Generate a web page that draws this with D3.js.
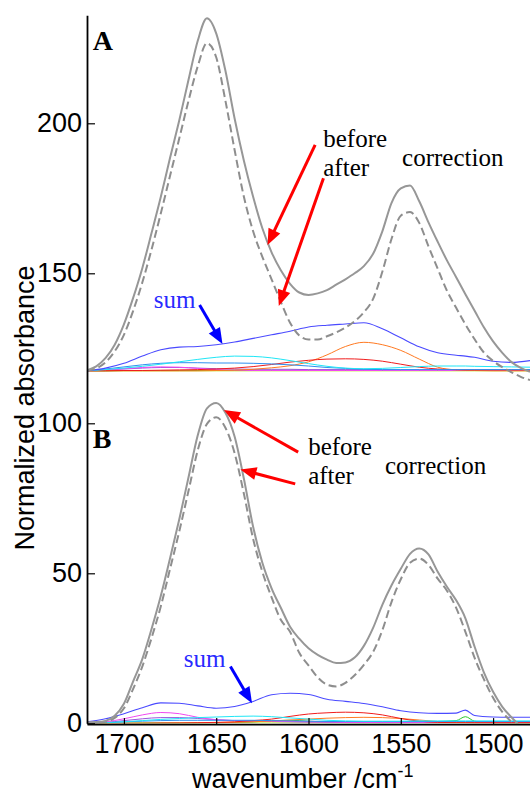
<!DOCTYPE html>
<html>
<head>
<meta charset="utf-8">
<script src="https://cdnjs.cloudflare.com/ajax/libs/d3/7.8.5/d3.min.js"></script>
<style>
  body { margin: 0; background: #fff; }
  svg { display: block; }
</style>
</head>
<body>
<div id="chart"></div>
<script>
// wavenumber grids, cm-1
var wnMain = [1720,1715,1710,1705,1700,1695,1690,1685,1680,1675,1670,1665,1660,1655,1650,1645,1640,1635,1630,1625,
              1620,1615,1610,1605,1600,1595,1590,1585,1580,1575,1570,1565,1560,1555,1550,1545,1540,1535,1530,1525,
              1520,1515,1510,1505,1500,1495,1490,1485,1480];
var wnComp = [1720,1710,1700,1690,1680,1670,1660,1650,1640,1630,1620,1610,1600,1590,1580,1570,1560,1550,1540,1530,
              1520,1515,1510,1500,1490,1480];

// panel A is stacked on top of panel B
var offsetA = 117.5;

var beforeA = [0.2,1.5,4.2,8.7,15.5,24.3,34.3,46,58,71,83.5,97,110,117.5,112.5,100,84,70,58,47.5,
               39.5,33.5,29,26.1,25.3,25.8,26.9,28.7,30.5,32.5,34.9,39,46.5,56,60.8,61.8,56.5,49.5,43,36.8,
               31.2,25.5,20,14.5,9.8,6,2.9,1,-0.3];
var afterA  = [0.1,0.8,2.8,6.5,12,20,29.5,40.5,52.5,65,77.5,90,101.5,109.2,104.5,90,73.5,58,46.5,38,
               30.5,23,16,11.8,10.4,10.4,11.5,12.8,14.4,16.5,19.5,24,33,44,51.7,52.9,49.3,41.5,34,26.7,
               21,15.5,10.5,6.1,3.3,1.2,-0.5,-2,-3.1];
var sumA     = [0,0.9,2.5,4.9,7,7.9,8.1,8.7,9.6,10.8,12,13.2,14.6,15.2,15.6,16,14,11,8,6,5.2,4.9,4.5,3.2,2.8,3.4];
var cyanA    = [0,0.4,0.9,1.5,2.2,3,3.8,4.5,4.9,4.8,4.3,3.4,2.4,1.5,0.9,0.7,0.8,1.1,1.4,1.6,1.6,1.6,1.5,1.4,1.3,1.2];
var azureA   = [0,0.6,1.3,2,2.5,2.7,2.7,2.6,2.6,2.5,2.3,2,1.6,1.1,0.8,0.5,0.4,0.4,0.4,0.4,0.4,0.4,0.4,0.4,0.4,0.4];
var redA     = [0,0,0.1,0.1,0.2,0.3,0.4,0.6,0.9,1.4,2.1,2.9,3.5,3.9,4,3.8,3.2,2.2,1.2,0.6,0.4,0.3,0.3,0.3,0.3,0.3];
var orangeA  = [0,0,0,0,0,0,0,0.1,0.2,0.5,1,1.7,3,5.3,8.1,9.5,8.7,6.8,3.9,1.2,0.3,0.2,0.1,0,0,0];
var magentaA = [0,0.3,0.7,1.1,1.3,1.2,0.8,0.4,0.2,0.1,0.1,0.1,0.1,0.1,0.1,0.1,0.1,0.1,0.1,0.1,0.1,0.1,0.1,0.1,0.1,0.1];
var purpleA  = [0,0.3,0.6,0.9,1.1,1.1,0.9,0.7,0.6,0.5,0.5,0.5,0.4,0.4,0.4,0.4,0.3,0.3,0.3,0.3,0.3,0.3,0.3,0.3,0.3,0.3];
var greenA   = [0,0,0.1,0.1,0.1,0.1,0.1,0.2,0.2,0.2,0.2,0.2,0.2,0.2,0.2,0.2,0.1,0.1,0.1,0.1,0.1,0.2,0.1,0.1,0.1,0.1];
var limeA    = [0,0,0,0,0,0,0,0,0,0,0,0,0,0,0,0,0,0,0,0,0,0,0,0,0,0];

var beforeB = [0.3,0.4,0.8,2.5,6.5,14,21.5,31.5,42.5,55,68,82,96,105,106.8,103.5,95.5,81.5,65.5,53.5,
               45,38.5,32.2,28.2,25,22.8,21.2,20.1,20.3,21.9,25.8,31.8,39.5,46,51.5,56.5,58.3,56.3,50.5,45.5,
               41,35,25.5,17,10.5,5.5,2,-1,-2];
var afterB  = [0.2,0.3,0.5,1.8,5,11.5,19,28.5,39,51.5,64,77.5,91,99.8,102,98.5,90,76.5,61.5,50.5,
               42,34.5,30.5,23.5,19.3,15.3,12.9,12.3,13.5,16,19.5,23.8,31,40.5,48,53.5,54.9,52.8,48.2,44.2,
               38.5,30.5,21.8,14.7,8.5,3.8,0.5,-2,-3];
var sumB     = [0.5,1.5,3.2,5.2,6.8,6.7,5.8,5,5.6,7.3,9.5,10,9.6,8,7.3,6.6,5.5,4.2,3.5,3.3,3.4,4.4,2.6,2.1,2,2];
var cyanB    = [0,0.2,0.5,0.9,1.3,1.6,1.9,2.1,2.3,2.4,2.2,1.8,1.4,1,0.8,0.7,0.7,0.7,0.8,0.8,0.8,0.8,0.8,0.8,0.8,0.8];
var azureB   = [0,0.2,0.5,0.7,0.9,1,1,1,1,1,0.9,0.8,0.7,0.6,0.6,0.6,0.6,0.6,0.6,0.6,0.6,0.6,0.6,0.6,0.6,0.6];
var redB     = [0,0,0,0,0.1,0.1,0.2,0.3,0.5,0.9,1.4,2.3,3.1,3.5,3.7,3.5,2.8,1.6,0.7,0.3,0.2,0.2,0.2,0.2,0.2,0.2];
var orangeB  = [0,0,0,0,0,0.1,0.1,0.2,0.3,0.5,0.8,1.1,1.4,1.7,1.9,2,1.9,1.6,1.1,0.6,0.3,0.2,0.1,0,0,0];
var magentaB = [0,0.5,1.5,2.8,3.6,3.2,2,1.2,0.9,0.8,0.7,0.6,0.5,0.4,0.3,0.3,0.2,0.2,0.2,0.2,0.2,0.2,0.2,0.2,0.2,0.2];
var purpleB  = [0,0.3,0.9,1.5,1.9,1.9,1.6,1.2,0.9,0.7,0.6,0.5,0.4,0.4,0.3,0.3,0.3,0.3,0.3,0.3,0.3,0.3,0.3,0.3,0.3,0.3];
var greenB   = [0,0,0,0,0,0,0.1,0.2,0.3,0.5,0.8,1,0.7,0.4,0.2,0.1,0.1,0.2,0.4,0.6,0.9,2.2,0.7,0.2,0.1,0.1];
var limeB    = [0,0,0,0.1,0.1,0.1,0.1,0.1,0.1,0.1,0.1,0.1,0.1,0.1,0.1,0.1,0.1,0.1,0.1,0.1,0.1,0.1,0.1,0.1,0.1,0.1];

var yTicks = [0, 50, 100, 150, 200];
var xTicks = [1700, 1650, 1600, 1550, 1500];

var W = 530, H = 793;

var svg = d3.select('#chart')
  .append('svg')
  .attr('width', W)
  .attr('height', H);

var x = d3.scaleLinear().domain([1720, 1480]).range([87, 530]);
var y = d3.scaleLinear().domain([0, 236]).range([723.3, 15.3]);

svg.append('clipPath')
  .attr('id', 'plot')
  .append('rect')
  .attr('x', x(1720))
  .attr('y', y(236))
  .attr('width', x(1480) - x(1720))
  .attr('height', y(0) - y(236));

var g = svg.append('g').attr('clip-path', 'url(#plot)');

function lineFor(wn, offset) {
  return d3.line()
    .x(function(d, i) { return x(wn[i]); })
    .y(function(d) { return y(d + offset); })
    .curve(d3.curveMonotoneX);
}

var compColors = ['#b4e000', '#2bc82b', '#9b55dc', '#f048f0', '#ff7a22', '#f01c1c', '#2f8ff0', '#1ee6f6'];

function drawPanel(offset, comps, sum, before, after) {
  // fitted bands
  comps.forEach(function(c, k) {
    g.append('path')
      .datum(c)
      .attr('d', lineFor(wnComp, offset))
      .attr('fill', 'none')
      .attr('stroke', compColors[k])
      .attr('stroke-width', 1);
  });

  g.append('path')
    .datum(sum)
    .attr('d', lineFor(wnComp, offset))
    .attr('fill', 'none')
    .attr('stroke', '#4a4aff')
    .attr('stroke-width', 1.1);

  g.append('path')
    .datum(after)
    .attr('d', lineFor(wnMain, offset))
    .attr('fill', 'none')
    .attr('stroke', '#8e8e8e')
    .attr('stroke-width', 2)
    .attr('stroke-dasharray', '8,4');

  g.append('path')
    .datum(before)
    .attr('d', lineFor(wnMain, offset))
    .attr('fill', 'none')
    .attr('stroke', '#979797')
    .attr('stroke-width', 2);
}

drawPanel(offsetA, [limeA, greenA, purpleA, magentaA, orangeA, redA, azureA, cyanA], sumA, beforeA, afterA);
drawPanel(0, [limeB, greenB, purpleB, magentaB, orangeB, redB, azureB, cyanB], sumB, beforeB, afterB);

// axes
var yAxis = svg.append('g')
  .attr('transform', 'translate(' + x(1720) + ',0)')
  .call(d3.axisLeft(y).tickValues(yTicks).tickSizeInner(-8).tickSizeOuter(0).tickPadding(5));

var xAxis = svg.append('g')
  .attr('transform', 'translate(0,' + (y(0) + 0.8) + ')')
  .call(d3.axisBottom(x).tickValues(xTicks).tickFormat(d3.format('d'))
    .tickSizeInner(-6).tickSizeOuter(0).tickPadding(10));

[yAxis, xAxis].forEach(function(a) {
  a.select('.domain').attr('stroke', '#000').attr('stroke-width', 1.8);
  a.selectAll('.tick line').attr('stroke', '#000').attr('stroke-width', 1.2);
  a.selectAll('.tick text')
    .attr('fill', '#000')
    .style('font-family', '"Liberation Sans", Arial, sans-serif')
    .style('font-size', '27px');
});

svg.append('text')
  .attr('transform', 'translate(33.5,408) rotate(-90)')
  .attr('text-anchor', 'middle')
  .style('font-family', '"Liberation Sans", Arial, sans-serif')
  .style('font-size', '27px')
  .text('Normalized absorbance');

var xl = svg.append('text')
  .attr('x', 192)
  .attr('y', 788)
  .style('font-family', '"Liberation Sans", Arial, sans-serif')
  .style('font-size', '27px');
xl.append('tspan').text('wavenumber /cm');
xl.append('tspan').attr('dy', -11).style('font-size', '18px').text('-1');

// annotations, placed in data units
var serif = '"Liberation Serif", "Times New Roman", Times, serif';

function label(wn, v, txt, color, size, bold) {
  svg.append('text')
    .attr('x', x(wn))
    .attr('y', y(v))
    .attr('fill', color)
    .attr('font-family', serif)
    .style('font-family', serif)
    .style('font-size', size + 'px')
    .style('font-weight', bold ? 'bold' : 'normal')
    .text(txt);
}

function arrow(w1, v1, w2, v2, color) {
  var x1 = x(w1), y1 = y(v1), x2 = x(w2), y2 = y(v2);
  var dx = x2 - x1, dy = y2 - y1, len = Math.sqrt(dx * dx + dy * dy);
  var ux = dx / len, uy = dy / len;
  var hl = 16, hw = 6.5;
  var bx = x2 - ux * hl, by = y2 - uy * hl;
  svg.append('line')
    .attr('x1', x1).attr('y1', y1)
    .attr('x2', bx + ux * 2).attr('y2', by + uy * 2)
    .attr('stroke', color)
    .attr('stroke-width', 3);
  svg.append('path')
    .attr('d', 'M' + x2 + ',' + y2 +
               'L' + (bx - uy * hw) + ',' + (by + ux * hw) +
               'L' + (bx + uy * hw) + ',' + (by - ux * hw) + 'Z')
    .attr('fill', color);
}

label(1716.9, 224.4, 'A', '#000', 28, true);
label(1716.9, 91.8, 'B', '#000', 28, true);

label(1592.0, 192.1, 'before', '#000', 25);
label(1592.0, 182.4, 'after', '#000', 25);
label(1549.3, 185.9, 'correction', '#000', 25);
label(1683.8, 138.4, 'sum', '#2a2aff', 25);

label(1600.2, 89.4, 'before', '#000', 25);
label(1600.2, 79.9, 'after', '#000', 25);
label(1558.6, 83.1, 'correction', '#000', 25);
label(1667.6, 18.7, 'sum', '#2a2aff', 25);

arrow(1596.4, 192.8, 1622.2, 159.4, '#ff0000');
arrow(1591.9, 181.7, 1616.1, 139.1, '#ff0000');
arrow(1659.0, 139.4, 1646.6, 126.4, '#0000ff');

arrow(1605.6, 90.4, 1645.8, 104.4, '#ff0000');
arrow(1607.2, 79.8, 1636.9, 84.6, '#ff0000');
arrow(1642.3, 18.9, 1630.6, 6.7, '#0000ff');
</script>
</body>
</html>
